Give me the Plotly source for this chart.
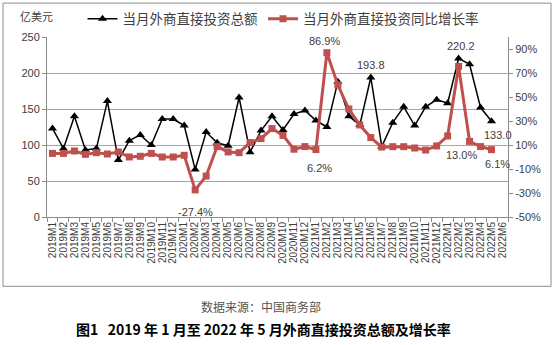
import plotly.graph_objects as go

months = [f"{y}M{m}" for y in (2019, 2020, 2021) for m in range(1, 13)] + [f"2022M{m}" for m in range(1, 7)]

fdi_total = [123, 95, 140, 93, 95, 161, 79, 106, 114, 100, 136, 136,
             127, 66, 118, 103, 99, 166, 90, 120, 140, 121, 143, 148,
             134, 125, 188, 140, 128, 193.8, 98, 131, 153, 127, 153, 163,
             158, 220.2, 212, 152, 133.0]
fdi_growth = [3.0, 3.0, 5.0, 2.2, 3.6, 2.5, 4.2, 0.0, 0.6, 3.0, 0.0, 0.0,
              1.4, -27.4, -15.9, 8.7, 4.2, 3.6, 12.0, 15.3, 23.7, 18.0, 6.5, 8.7,
              6.2, 86.9, 60.0, 40.0, 26.7, 16.2, 8.3, 8.6, 8.6, 7.5, 5.8, 9.2,
              17.5, 75.5, 13.0, 8.7, 6.1]

left_ticks = [0, 50, 100, 150, 200, 250]
right_ticks = [-50, -30, -10, 10, 30, 50, 70, 90]

name_total = "当月外商直接投资总额"
name_growth = "当月外商直接投资同比增长率"

font = "Liberation Sans, Arial, sans-serif"
cjk = "Noto Sans CJK SC, sans-serif"

W, H = 556, 345
L, R, T, B = 47, 48, 37, 127.5
PW, PH = W - L - R, H - T - B


def px(x):
    return (x - L) / PW


def py(y):
    return (H - B - y) / PH


fig = go.Figure()
fig.add_trace(go.Scatter(
    x=months[:len(fdi_total)], y=fdi_total, name=name_total, mode="lines+markers",
    line=dict(color="black", width=1.5),
    marker=dict(symbol="triangle-up", size=8, color="black"),
    yaxis="y"))
fig.add_trace(go.Scatter(
    x=months[:len(fdi_growth)], y=fdi_growth, name=name_growth, mode="lines+markers",
    line=dict(color="#C0504D", width=3),
    marker=dict(symbol="square", size=7, color="#C0504D"),
    yaxis="y2"))

ann = []
lab_color = "#404040"


def gl(idx, ax, ay):
    ann.append(dict(x=months[idx], y=fdi_growth[idx], xref="x", yref="y2",
                    text=f"{fdi_growth[idx]:.1f}%", showarrow=False,
                    xshift=ax, yshift=ay, font=dict(family=font, size=11, color=lab_color)))


def tl(idx, ax, ay):
    ann.append(dict(x=months[idx], y=fdi_total[idx], xref="x", yref="y",
                    text=f"{fdi_total[idx]:.1f}", showarrow=False,
                    xshift=ax, yshift=ay, font=dict(family=font, size=11, color=lab_color)))


gl(13, 0, -22)
gl(25, -2, 12)
gl(24, 4, -18)
gl(38, -8, -14)
gl(40, 6, -14)
tl(29, 0, 12)
tl(37, 2, 12)
tl(40, 6, -14)

ann.append(dict(x=px(18), y=py(16), xref="paper", yref="paper", text="亿美元",
                showarrow=False, xanchor="left", yanchor="middle",
                font=dict(family=cjk, size=11, color="#404040")))
ann.append(dict(x=px(261), y=py(307), xref="paper", yref="paper",
                text="数据来源：中国商务部", showarrow=False, yanchor="middle",
                font=dict(family=cjk, size=12, color="#555555")))
ann.append(dict(x=px(263), y=py(330), xref="paper", yref="paper",
                text="<b>图1   2019 年 1 月至 2022 年 5 月外商直接投资总额及增长率</b>", showarrow=False,
                yanchor="middle", font=dict(family=cjk, size=14, color="black")))

shapes = [dict(type="rect", xref="paper", yref="paper",
               x0=px(3), x1=px(551), y0=py(287), y1=py(3),
               line=dict(color="#8c8c8c", width=1), fillcolor="rgba(0,0,0,0)")]

fig.update_layout(
    width=W, height=H,
    margin=dict(l=L, r=R, t=T, b=B, autoexpand=False),
    paper_bgcolor="white", plot_bgcolor="white",
    showlegend=True,
    legend=dict(orientation="h", xref="container", yref="container",
                x=283 / W, xanchor="center",
                y=1 - 19 / H, yanchor="middle",
                font=dict(family=cjk, size=13.5, color="#404040"),
                bgcolor="rgba(0,0,0,0)", itemwidth=30, tracegroupgap=0),
    xaxis=dict(type="category", categoryorder="array", categoryarray=months,
               tickmode="array", tickvals=months, ticktext=months,
               range=[-0.5, len(months) - 0.5], tickson="boundaries",
               ticks="outside", ticklen=4, tickcolor="#8c8c8c",
               showline=True, linecolor="#8c8c8c", showgrid=False,
               tickangle=-90, tickfont=dict(family=font, size=10, color="#404040")),
    yaxis=dict(range=[0, 250], tickvals=left_ticks, showgrid=True, gridcolor="#a6a6a6",
               showline=True, linecolor="#8c8c8c", ticks="outside", ticklen=4,
               tickcolor="#8c8c8c", zeroline=False,
               tickfont=dict(family=font, size=11, color="#404040")),
    yaxis2=dict(range=[-50, 100], tickvals=right_ticks,
                ticktext=[f"{v}%" for v in right_ticks], overlaying="y", side="right",
                showgrid=False, showline=True, linecolor="#8c8c8c", ticks="outside",
                ticklen=4, tickcolor="#8c8c8c", zeroline=False,
                tickfont=dict(family=font, size=11, color="#404040")),
    annotations=ann, shapes=shapes,
)

fig.write_html("out.html")
